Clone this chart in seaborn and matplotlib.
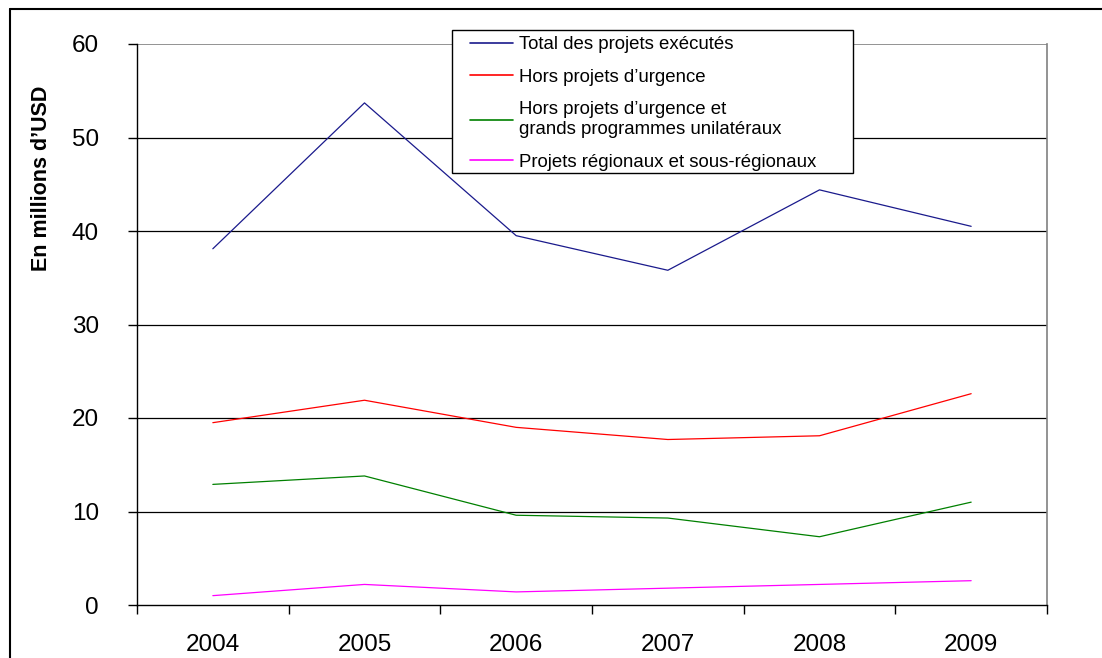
import matplotlib
matplotlib.use("Agg")
import matplotlib.pyplot as plt
from matplotlib.lines import Line2D
from matplotlib.patches import Rectangle
import numpy as np
import pandas as pd
import seaborn as sns

years = ["2004", "2005", "2006", "2007", "2008", "2009"]
total = [38.1, 53.7, 39.5, 35.8, 44.4, 40.5]
hors_urgence = [19.5, 21.9, 19.0, 17.7, 18.1, 22.6]
hors_urgence_grands = [12.9, 13.8, 9.6, 9.3, 7.3, 11.0]
regionaux = [1.0, 2.2, 1.4, 1.8, 2.2, 2.6]

series_names = [
    "Total des projets exécutés",
    "Hors projets d’urgence",
    "Hors projets d’urgence et\ngrands programmes unilatéraux",
    "Projets régionaux et sous-régionaux",
]
colors = ["#1a1a8c", "#ff0000", "#008000", "#ff00ff"]

df = pd.DataFrame({
    "year": years * 4,
    "value": total + hors_urgence + hors_urgence_grands + regionaux,
    "series": sum([[n] * len(years) for n in series_names], []),
})

sns.set_theme(style="white", rc={"text.color": "black", "axes.labelcolor": "black",
                                 "xtick.color": "black", "ytick.color": "black"})
plt.rcParams["font.family"] = ["Liberation Sans", "DejaVu Sans"]

fig = plt.figure(figsize=(11.02, 6.58), dpi=100)
ax = fig.add_axes([137 / 1102, 1 - 605 / 658, 910 / 1102, 561 / 658])

sns.lineplot(data=df, x="year", y="value", hue="series", palette=colors,
             hue_order=series_names, ax=ax, linewidth=0.9, legend=False, sort=False)

ax.set_xlim(-0.5, 5.5)
ax.set_ylim(0, 60)
ax.set_yticks(np.arange(0, 61, 10))
ax.set_xticks(range(len(years)))
ax.set_xticklabels(years)
ax.set_xticks(np.arange(-0.5, 5.6, 1), minor=True)
ax.tick_params(axis="x", which="major", bottom=True, length=0, pad=21, labelsize=17.5)
ax.tick_params(axis="x", which="minor", bottom=True, length=6.5, width=1, color="black",
               direction="out")
ax.tick_params(axis="y", left=True, length=6.5, width=1, color="black", direction="out",
               pad=21, labelsize=17.5)
for y in range(10, 60, 10):
    ax.axhline(y, color="black", linewidth=0.9, zorder=0)
ax.axhline(60, color="#808080", linewidth=1.2, zorder=0)

ax.set_xlabel("")
ax.set_ylabel("")
fig.text(42 / 1102, 1 - 178 / 658, "En millions d’USD", rotation=90, fontsize=15.5,
         fontweight="bold", ha="center", va="center")

for side in ["left", "bottom"]:
    ax.spines[side].set_color("black")
    ax.spines[side].set_linewidth(1)
ax.spines["right"].set_color("#808080")
ax.spines["right"].set_linewidth(1.2)
ax.spines["top"].set_visible(False)

# legend box drawn separately so its padding can match the original
ax.add_patch(Rectangle((452 / 1102, 1 - 173 / 658), 401 / 1102, 143 / 658,
                       transform=fig.transFigure, facecolor="white", edgecolor="black",
                       linewidth=1, zorder=4, clip_on=False))
handles = [Line2D([0], [0], color=c, linewidth=1.2) for c in colors]
leg = ax.legend(handles, series_names, loc="upper left",
                bbox_to_anchor=(470 / 1102, 1 - 36 / 658), bbox_transform=fig.transFigure,
                frameon=False, fontsize=13.4, handlelength=2.3, handletextpad=0.35,
                labelspacing=0.84, borderpad=0, borderaxespad=0)
leg.set_zorder(5)

# outer frame of the figure
fig.add_artist(Line2D([10 / 1102, 1], [1 - 9 / 658] * 2, color="black", linewidth=1.5,
                      transform=fig.transFigure))
fig.add_artist(Line2D([10 / 1102] * 2, [0, 1 - 9 / 658], color="black", linewidth=1.5,
                      transform=fig.transFigure))

fig.savefig("out.png", dpi=100)
